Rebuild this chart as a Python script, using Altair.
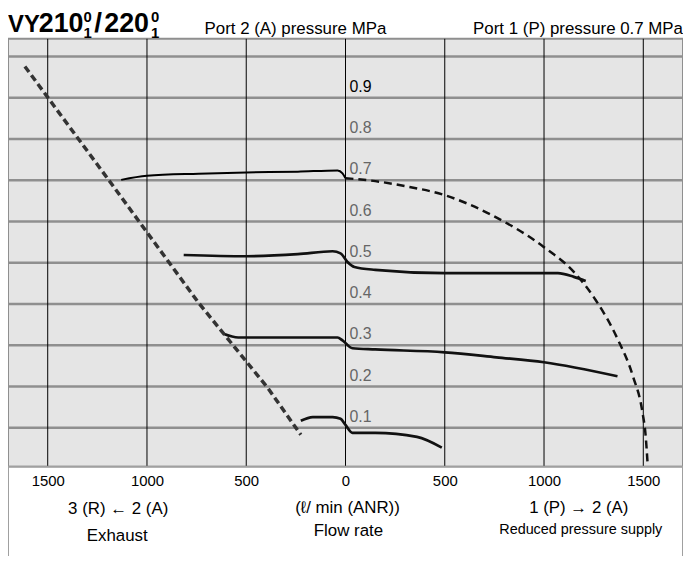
import altair as alt
import pandas as pd

FONT = "Liberation Sans"

# ---- data (flow rate l/min ANR ; port 2 pressure MPa) ----
# negative flow = exhaust 3(R) <- 2(A), positive = supply 1(P) -> 2(A)
exh_x = [-1615, -1190, -740, -390, -225]
exh_y = [0.976, 0.699, 0.403, 0.196, 0.083]

p07_x = [-1130, -1000, -740, -500, -240, -40, -15, 0]
p07_y = [0.701, 0.711, 0.716, 0.719, 0.721, 0.724, 0.717, 0.705]

sup_x = [0, 150, 300, 500, 735, 1000, 1150, 1260, 1370, 1450, 1495, 1512, 1522]
sup_y = [0.705, 0.698, 0.686, 0.664, 0.616, 0.538, 0.478, 0.410, 0.316, 0.222, 0.140, 0.080, 0.011]

p05_x = [-815, -500, -240, -65, -25, 10, 45, 150, 500, 1000, 1070, 1150, 1210]
p05_y = [0.519, 0.516, 0.521, 0.528, 0.523, 0.502, 0.490, 0.483, 0.475, 0.475, 0.475, 0.466, 0.456]

p03_x = [-615, -540, -440, -240, -40, -15, 35, 150, 500, 760, 1000, 1370]
p03_y = [0.328, 0.319, 0.319, 0.319, 0.319, 0.312, 0.293, 0.290, 0.283, 0.271, 0.259, 0.225]

p01_x = [-225, -165, -65, -25, 0, 35, 150, 360, 485]
p01_y = [0.117, 0.126, 0.126, 0.122, 0.107, 0.088, 0.088, 0.078, 0.052]

pressure_grid = [0.1, 0.2, 0.3, 0.4, 0.5, 0.6, 0.7, 0.8, 0.9, 1.0]
pressure_labels = [0.1, 0.2, 0.3, 0.4, 0.5, 0.6, 0.7, 0.8, 0.9]
flow_ticks = [-1500, -1000, -500, 0, 500, 1000, 1500]

W, H = 680, 431

xs = alt.Scale(domain=[-1700, 1700], nice=False, zero=False)
ys = alt.Scale(domain=[0.006, 1.043], nice=False, zero=False)

x_axis = alt.Axis(values=flow_ticks, labelExpr="format(abs(datum.value), 'd')",
                  grid=False, ticks=False, tickSize=0, domain=False,
                  labelFont=FONT, labelFontSize=15, labelColor="#000",
                  labelPadding=7, labelBaseline="top", title=None)


def X(field="x"):
    return alt.X(f"{field}:Q", scale=xs, axis=x_axis)


def Y(field="y"):
    return alt.Y(f"{field}:Q", scale=ys, axis=None)


def series(name, xv, yv):
    return pd.DataFrame({"x": xv, "y": yv, "s": name})


solid = pd.concat([series("0.5", p05_x, p05_y),
                   series("0.3", p03_x, p03_y), series("0.1", p01_x, p01_y)])

hgrid = alt.Chart(pd.DataFrame({"y": pressure_grid})).mark_rule(
    color="#8f8f8f", strokeWidth=2.5).encode(y=Y())
vgrid = alt.Chart(pd.DataFrame({"x": flow_ticks})).mark_rule(
    color="#000", strokeWidth=1).encode(x=X())

solid_lines = alt.Chart(solid).mark_line(
    color="#111", strokeWidth=2.7, interpolate="monotone").encode(
    x=X(), y=Y(), detail="s:N")

top_line = alt.Chart(series("0.7", p07_x, p07_y)).mark_line(
    color="#000", strokeWidth=2, interpolate="monotone").encode(x=X(), y=Y())

supply_dash = alt.Chart(series("supply", sup_x, sup_y)).mark_line(
    color="#111", strokeWidth=2.5, strokeDash=[8, 5], interpolate="monotone").encode(
    x=X(), y=Y())

exhaust_dash = alt.Chart(series("exhaust", exh_x, exh_y)).mark_line(
    color="#333", strokeWidth=3.5, strokeDash=[7, 4]).encode(x=X(), y=Y())

plabels = alt.Chart(pd.DataFrame({"y": pressure_labels, "x": 0})).mark_text(
    font=FONT, fontSize=16, align="left", baseline="alphabetic", dx=4, dy=-6).encode(
    x=X(), y=Y(), text=alt.Text("y:Q", format=".1f"),
    color=alt.condition("datum.y > 0.85", alt.value("#000"), alt.value("#666666")))


def txt(s, x, y, size, align="left", weight="normal", baseline="alphabetic"):
    return alt.Chart(pd.DataFrame({"t": [s]})).mark_text(
        font=FONT, fontSize=size, align=align, fontWeight=weight,
        baseline=baseline, color="#000").encode(
        x=alt.value(x), y=alt.value(y), text="t:N")


def dtxt(s, xdata, y, size):
    return alt.Chart(pd.DataFrame({"t": [s], "x": [xdata]})).mark_text(
        font=FONT, fontSize=size, align="center", baseline="alphabetic", color="#000").encode(
        x=X(), y=alt.value(y), text="t:N")


frame = alt.Chart(pd.DataFrame({"a": [0]})).mark_rect(
    fillOpacity=0, stroke="#a0a0a0", strokeWidth=2).encode(
    x=alt.value(0), x2=alt.value(W), y=alt.value(H), y2=alt.value(H + 115))

texts = [
    txt("VY", 0, -7, 24, weight="bold"),
    txt("210", 31, -7, 27, weight="bold"),
    txt("0", 76, -17, 15, weight="bold"),
    txt("1", 76, -1, 15, weight="bold"),
    txt("/", 87, -7, 28, weight="bold"),
    txt("220", 97, -7, 27, weight="bold"),
    txt("0", 144, -17, 15, weight="bold"),
    txt("1", 144, -1, 15, weight="bold"),
    txt("Port 2 (A) pressure MPa", 198, -5, 17),
    txt("Port 1 (P) pressure 0.7 MPa", W, -5, 17, align="right"),
    dtxt("3 (R) \u2190 2 (A)", -1145, 479, 17),
    dtxt("Exhaust", -1150, 506, 17),
    dtxt("(\u2113/ min (ANR))", 10, 478, 17),
    dtxt("Flow rate", 15, 501, 17),
    dtxt("1 (P) \u2192 2 (A)", 1175, 478, 17),
    dtxt("Reduced pressure supply", 1185, 499, 14.5),
]

chart = alt.layer(
    hgrid, vgrid, top_line, solid_lines, supply_dash, exhaust_dash, plabels, frame, *texts
).properties(
    width=W, height=H,
    autosize=alt.AutoSizeParams(type="none"),
    padding={"left": 0, "top": 29, "right": 0, "bottom": 88},
    background="#ffffff",
).configure_view(
    fill="#e5e5e5", stroke="#8f8f8f", strokeWidth=2
)

chart.save("out.html", embed_options={"renderer": "svg", "actions": False})
